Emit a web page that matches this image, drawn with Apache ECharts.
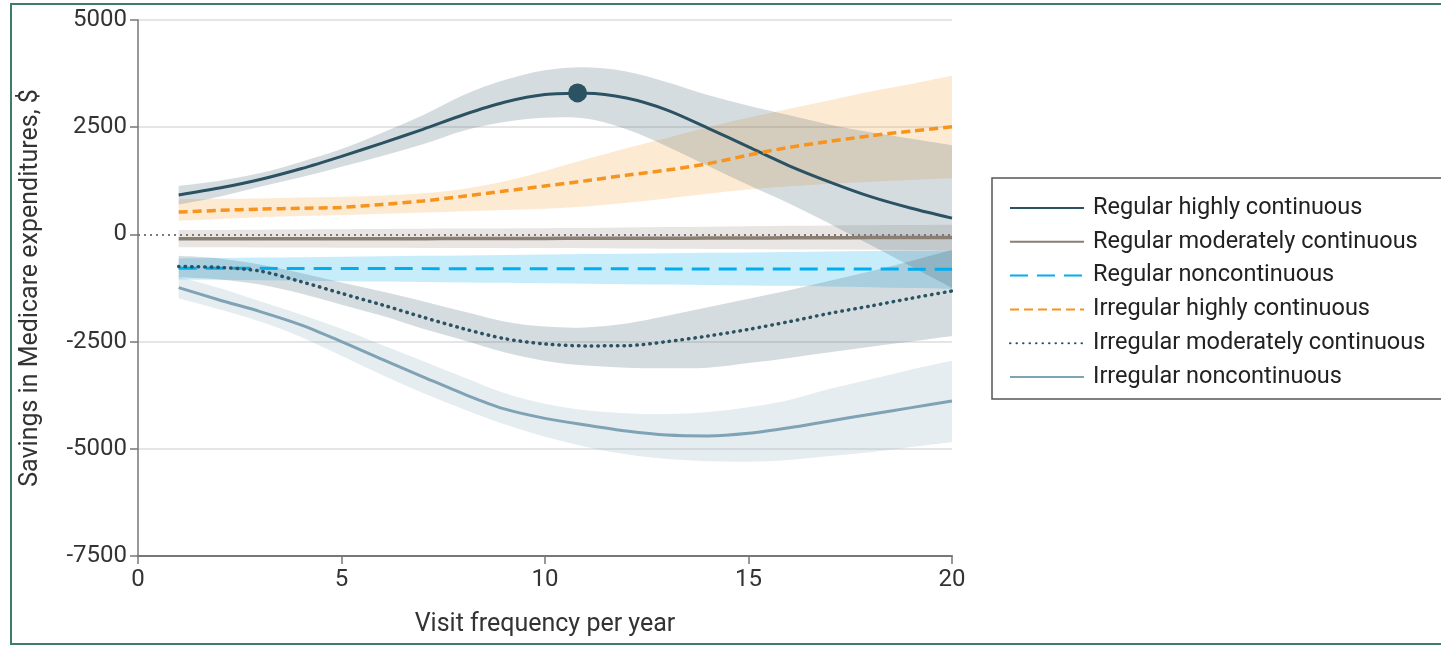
<!DOCTYPE html>
<html>
<head>
<meta charset="utf-8">
<script src="https://cdn.jsdelivr.net/npm/echarts@6/dist/echarts.min.js"></script>
<style>
  html, body { margin: 0; padding: 0; background: #fff; }
  #chart { width: 1441px; height: 646px; }
</style>
</head>
<body>
<div id="chart"></div>
<script>
// visits per year
var visits = [1, 2, 3, 4, 5, 6, 7, 8, 9, 10, 11, 12, 13, 14, 15, 16, 17, 18, 19, 20];

// Regular highly continuous
var rhc   = [920, 1080, 1280, 1530, 1820, 2130, 2450, 2790, 3080, 3260, 3290, 3180, 2900, 2480, 2040, 1600, 1220, 880, 610, 380];
var rhcLo = [700, 880, 1110, 1330, 1580, 1830, 2100, 2420, 2620, 2720, 2700, 2450, 2050, 1600, 1150, 720, 250, -250, -750, -1250];
var rhcHi = [1130, 1250, 1430, 1690, 1990, 2370, 2780, 3250, 3600, 3830, 3900, 3800, 3550, 3250, 3000, 2780, 2560, 2380, 2230, 2080];

// Regular moderately continuous
var rmc   = [-100, -100, -100, -100, -100, -100, -100, -95, -95, -95, -90, -90, -90, -85, -85, -80, -80, -75, -75, -70];
var rmcLo = [-300, -300, -305, -305, -310, -310, -315, -315, -320, -320, -325, -330, -335, -340, -345, -350, -355, -360, -365, -370];
var rmcHi = [100, 105, 110, 115, 120, 125, 130, 135, 140, 145, 150, 160, 170, 180, 190, 200, 210, 215, 220, 225];

// Regular noncontinuous
var rnc   = [-790, -790, -792, -793, -795, -796, -798, -799, -800, -801, -802, -803, -804, -805, -806, -807, -808, -809, -810, -812];
var rncLo = [-1050, -1060, -1070, -1080, -1090, -1100, -1110, -1120, -1130, -1140, -1150, -1160, -1170, -1180, -1190, -1200, -1215, -1230, -1250, -1270];
var rncHi = [-560, -550, -540, -530, -520, -510, -500, -490, -480, -470, -460, -450, -440, -430, -420, -410, -400, -390, -385, -380];

// Irregular highly continuous
var ihc   = [520, 560, 590, 610, 630, 700, 780, 890, 1010, 1130, 1250, 1380, 1500, 1650, 1850, 2030, 2170, 2300, 2410, 2510];
var ihcLo = [320, 360, 400, 430, 450, 480, 510, 540, 570, 600, 650, 740, 840, 950, 1050, 1120, 1180, 1230, 1270, 1310];
var ihcHi = [820, 830, 840, 860, 880, 910, 960, 1060, 1240, 1480, 1750, 2010, 2250, 2500, 2720, 2930, 3130, 3330, 3510, 3700];

// Irregular moderately continuous
var imc   = [-750, -770, -855, -1100, -1375, -1645, -1930, -2200, -2430, -2555, -2600, -2595, -2500, -2370, -2215, -2035, -1840, -1670, -1490, -1320];
var imcLo = [-1000, -1050, -1170, -1380, -1640, -1900, -2200, -2470, -2750, -2950, -3060, -3110, -3120, -3110, -3000, -2880, -2750, -2620, -2500, -2370];
var imcHi = [-500, -560, -700, -900, -1120, -1330, -1560, -1800, -2030, -2150, -2170, -2080, -1900, -1700, -1500, -1300, -1080, -860, -620, -360];

// Irregular noncontinuous
var inc   = [-1240, -1530, -1800, -2110, -2500, -2915, -3320, -3720, -4070, -4290, -4445, -4585, -4680, -4700, -4640, -4510, -4350, -4195, -4040, -3885];
var incLo = [-1490, -1750, -2030, -2390, -2830, -3280, -3700, -4080, -4430, -4720, -4950, -5130, -5240, -5290, -5300, -5260, -5170, -5080, -4960, -4840];
var incHi = [-985, -1250, -1560, -1870, -2200, -2580, -2950, -3330, -3700, -3950, -4100, -4170, -4190, -4140, -4030, -3860, -3600, -3380, -3150, -2945];

// peak of regular highly continuous
var peakX = [10.8];
var peakY = [3300];

var font = 'Roboto';

function pairs(ys) {
  return visits.map(function (x, i) { return [x, ys[i]]; });
}

// smooth path through pixel points (catmull-rom -> bezier)
function curve(pts, first) {
  var d = first ? 'M' + pts[0][0] + ',' + pts[0][1] : 'L' + pts[0][0] + ',' + pts[0][1];
  for (var i = 0; i < pts.length - 1; i++) {
    var p0 = pts[Math.max(i - 1, 0)], p1 = pts[i], p2 = pts[i + 1], p3 = pts[Math.min(i + 2, pts.length - 1)];
    var c1 = [p1[0] + (p2[0] - p0[0]) / 6, p1[1] + (p2[1] - p0[1]) / 6];
    var c2 = [p2[0] - (p3[0] - p1[0]) / 6, p2[1] - (p3[1] - p1[1]) / 6];
    d += 'C' + c1[0] + ',' + c1[1] + ' ' + c2[0] + ',' + c2[1] + ' ' + p2[0] + ',' + p2[1];
  }
  return d;
}

// confidence band drawn as one filled shape
function band(lo, hi, color) {
  return {
    type: 'custom', silent: true, z: 1,
    data: visits.map(function (x, i) { return [x, lo[i], hi[i]]; }),
    encode: { x: 0, y: [1, 2] },
    renderItem: function (params, api) {
      if (params.dataIndex !== 0) return;
      var top = visits.map(function (x, i) { return api.coord([x, hi[i]]); });
      var bot = visits.map(function (x, i) { return api.coord([x, lo[i]]); }).reverse();
      return {
        type: 'path',
        shape: { pathData: curve(top, true) + curve(bot, false) + 'Z' },
        style: { fill: color, stroke: null }
      };
    }
  };
}

function line(name, ys, color, type, width, cap) {
  return {
    name: name, type: 'line', data: pairs(ys), symbol: 'none', smooth: 0.3, z: 3,
    itemStyle: { color: color },
    lineStyle: { color: color, type: type, width: width, cap: cap || 'butt' }
  };
}

var chart = echarts.init(document.getElementById('chart'));

var series = [
  band(rmcLo, rmcHi, 'rgba(138,126,114,0.2)'),
  band(rncLo, rncHi, 'rgba(0,174,239,0.22)'),
  band(ihcLo, ihcHi, 'rgba(247,148,29,0.2)'),
  band(imcLo, imcHi, 'rgba(43,82,99,0.2)'),
  band(incLo, incHi, 'rgba(127,163,181,0.2)'),
  band(rhcLo, rhcHi, 'rgba(43,82,99,0.2)')
];

var rmcLine = line('Regular moderately continuous', rmc, '#8a7e72', 'solid', 3.5);
rmcLine.markLine = {
  silent: true, symbol: 'none', label: { show: false },
  lineStyle: { color: '#7a7a7a', type: [2, 4], width: 2 },
  data: [{ yAxis: 0 }]
};

series.push(
  line('Regular highly continuous', rhc, '#2b5263', 'solid', 3),
  rmcLine,
  line('Regular noncontinuous', rnc, '#00aeef', [18, 9], 3),
  line('Irregular highly continuous', ihc, '#f7941d', [9, 5], 3.5),
  line('Irregular moderately continuous', imc, '#2b5263', [0.5, 6], 3.5, 'round'),
  line('Irregular noncontinuous', inc, '#7fa3b5', 'solid', 3),
  {
    name: 'peak', type: 'scatter', symbolSize: 19, z: 4,
    data: peakX.map(function (x, i) { return [x, peakY[i]]; }),
    itemStyle: { color: '#2b5263', opacity: 1 }
  }
);

var option = {
  animation: false,
  grid: { left: 138, right: 489, top: 20, bottom: 90 },
  graphic: [{
    type: 'rect', silent: true,
    shape: { x: 11, y: 4, width: 1450, height: 640 },
    style: { fill: 'none', stroke: '#3f7c6a', lineWidth: 2 }
  }],
  legend: {
    orient: 'vertical', left: 992, top: 178,
    data: ['Regular highly continuous', 'Regular moderately continuous', 'Regular noncontinuous',
           'Irregular highly continuous', 'Irregular moderately continuous', 'Irregular noncontinuous'],
    itemWidth: 74, itemHeight: 24, itemGap: 9.8,
    itemStyle: { opacity: 0 },
    padding: [18, 20, 10, 17],
    borderColor: '#555', borderWidth: 1.5,
    textStyle: { fontFamily: font, fontSize: 23.5, color: '#222', lineHeight: 24, padding: [0, 0, 0, 4] }
  },
  xAxis: {
    type: 'value', min: 0, max: 20, interval: 5,
    name: 'Visit frequency per year', nameLocation: 'middle', nameGap: 56,
    nameTextStyle: { fontFamily: font, fontSize: 25, color: '#333' },
    axisLine: { onZero: false, lineStyle: { color: '#777', width: 2 } },
    axisTick: { show: true, length: 8, lineStyle: { color: '#777', width: 1.5 } },
    axisLabel: { fontFamily: font, fontSize: 24, color: '#333', margin: 12 },
    splitLine: { show: false }
  },
  yAxis: {
    type: 'value', min: -7500, max: 5000, interval: 2500,
    name: 'Savings in Medicare expenditures, $', nameLocation: 'middle', nameGap: 95,
    nameTextStyle: { fontFamily: font, fontSize: 25, color: '#333' },
    axisLine: { show: true, lineStyle: { color: '#777', width: 1.5 } },
    axisTick: { show: true, length: 8, lineStyle: { color: '#777', width: 1.5 } },
    axisLabel: {
      fontFamily: font, fontSize: 24, color: '#333', margin: 11,
      formatter: function (v) { return String(v); }
    },
    splitLine: {
      show: true,
      lineStyle: { color: ['#dcdcdc', '#dcdcdc', '#dcdcdc', 'rgba(0,0,0,0)', '#dcdcdc', '#dcdcdc'], width: 1.5 }
    }
  },
  series: series
};

chart.setOption(option);
</script>
</body>
</html>
